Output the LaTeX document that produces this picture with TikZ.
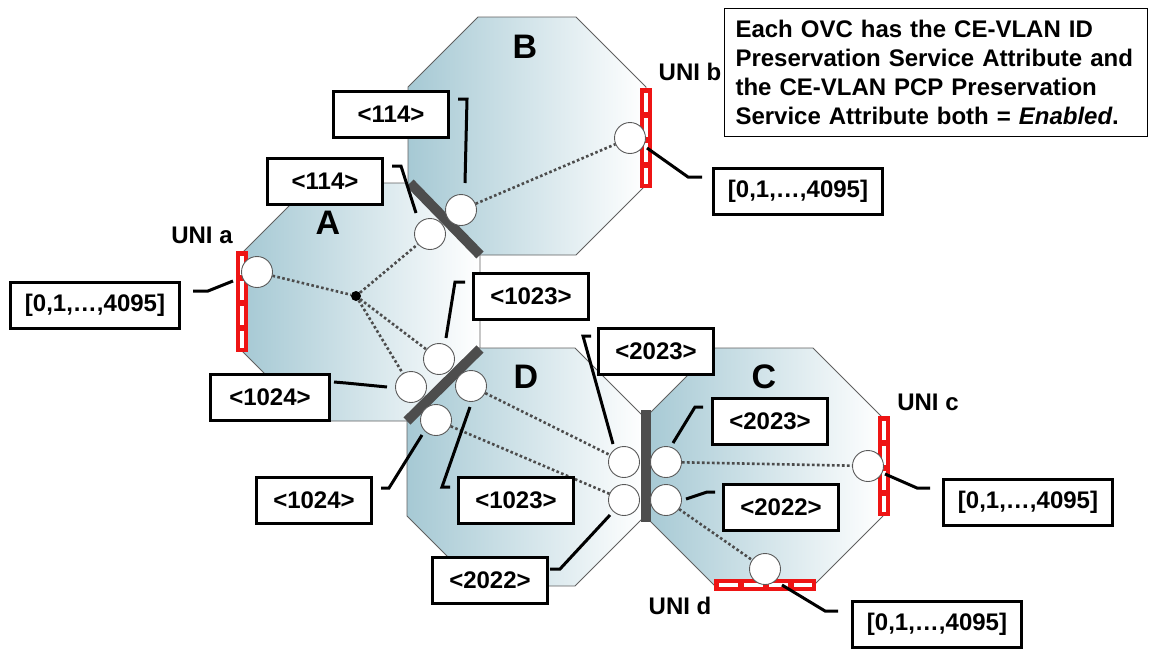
\documentclass[tikz,border=0pt]{standalone}
\usepackage{fontspec}
\setsansfont{Liberation Sans}
\definecolor{ovcblue}{RGB}{166,201,212}
\definecolor{nnigray}{RGB}{77,77,77}
\definecolor{unired}{RGB}{238,20,20}

\begin{document}
\begin{tikzpicture}[
  x=1pt, y=-1pt,
  font=\sffamily\bfseries\fontsize{24}{29}\selectfont,
  ovc/.style={draw=gray!75!black, line width=0.9, left color=ovcblue, right color=white},
  nni/.style={draw=nnigray, line width=10},
  unibar/.style={draw=unired, fill=unired, line width=2},
  unidash/.style={draw=white, line width=4, dash pattern=on 19 off 6},
  port/.style={circle, draw=gray!70!black, line width=0.9, fill=white, minimum size=31, inner sep=0},
  hub/.style={circle, fill=black, minimum size=10, inner sep=0},
  evc/.style={draw=gray!60!black, line width=2.6, dash pattern=on 2.6 off 2.4},
  lbl/.style={draw, line width=3, fill=white, minimum width=115, minimum height=46, inner sep=0},
  vlan/.style={lbl, minimum width=169},
  leader/.style={draw, line width=3},
  ovcname/.style={font=\sffamily\bfseries\fontsize{34}{34}\selectfont},
  note/.style={draw, line width=1, anchor=north west, align=left, minimum width=423, minimum height=128,
    text width=401, inner xsep=11}
]
\useasboundingbox (0,0) rectangle (1151,648);

% operator CENs
\begin{scope}[shift={(242,183)}]
  \draw[ovc] (70,0) -- (168,0) -- (238,70) -- (238,168) -- (168,238) -- (70,238) -- (0,168) -- (0,70) -- cycle;
\end{scope}
\begin{scope}[shift={(408,17)}]
  \draw[ovc] (70,0) -- (168,0) -- (238,70) -- (238,168) -- (168,238) -- (70,238) -- (0,168) -- (0,70) -- cycle;
\end{scope}
\begin{scope}[shift={(407,348)}]
  \draw[ovc] (70,0) -- (168,0) -- (238,70) -- (238,168) -- (168,238) -- (70,238) -- (0,168) -- (0,70) -- cycle;
\end{scope}
\begin{scope}[shift={(645,348)}]
  \draw[ovc] (70,0) -- (168,0) -- (238,70) -- (238,168) -- (168,238) -- (70,238) -- (0,168) -- (0,70) -- cycle;
\end{scope}

\node[ovcname] (nA) at (328,223) {A};
\node[ovcname] (nB) at (525,47) {B};
\node[ovcname] (nC) at (764,377) {C};
\node[ovcname] (nD) at (526,377) {D};

% ENNIs
\draw[nni] (410,183) -- (480,255);
\draw[nni] (407,421) -- (480,349);
\draw[nni] (646,410) -- (646,522);

% UNIs
\draw[unibar] (237,252) rectangle (247,351);
\draw[unidash] (242,256) -- (242,348);
\draw[unibar] (641,89) rectangle (651,187);
\draw[unidash] (646,93) -- (646,184);
\draw[unibar] (879,417) rectangle (889,515);
\draw[unidash] (884,421) -- (884,512);
\draw[unibar] (715,580) rectangle (815,590);
\draw[unidash] (719,585) -- (812,585);

\node (uA) at (202,235) {UNI a};
\node (uB) at (690,72) {UNI b};
\node (uC) at (928,402) {UNI c};
\node (uD) at (680,606) {UNI d};

% OVC end points
\node[port] (pA) at (257,272) {};
\node[port] (pAB) at (430,234) {};
\node[port] (pBA) at (461,210) {};
\node[port] (pB) at (630,138) {};
\node[port] (pAD1) at (439,359) {};
\node[port] (pAD2) at (411,387) {};
\node[port] (pDA1) at (471,386) {};
\node[port] (pDA2) at (436,420) {};
\node[port] (pDC1) at (624,462) {};
\node[port] (pDC2) at (624,500) {};
\node[port] (pCD1) at (666,462) {};
\node[port] (pCD2) at (666,500) {};
\node[port] (pC) at (868,466) {};
\node[port] (pD) at (765,569) {};
\node[hub] (hub) at (356,296) {};

\draw[evc] (pA) -- (hub);
\draw[evc] (hub) -- (pAB);
\draw[evc] (hub) -- (pAD1);
\draw[evc] (hub) -- (pAD2);
\draw[evc] (pBA) -- (pB);
\draw[evc] (pDA1) -- (pDC1);
\draw[evc] (pDA2) -- (pDC2);
\draw[evc] (pCD1) -- (pC);
\draw[evc] (pCD2) -- (pD);

% CE-VLAN ID maps
\node[lbl] (mB114) at (391,114) {<114>};
\node[lbl] (mA114) at (325,181) {<114>};
\node[vlan] (mA) at (95,305) {[0,1,…,4095]};
\node[lbl, minimum width=119] (mA1024) at (270,397) {<1024>};
\node[lbl] (mA1023) at (531,296) {<1023>};
\node[lbl] (mD2023) at (656,351) {<2023>};
\node[lbl] (mC2023) at (770,421) {<2023>};
\node[lbl] (mC2022) at (781,507) {<2022>};
\node[lbl] (mD1023) at (516,500) {<1023>};
\node[lbl] (mD1024) at (314,500) {<1024>};
\node[lbl] (mD2022) at (490,580) {<2022>};
\node[vlan] (mB) at (798,191) {[0,1,…,4095]};
\node[vlan] (mC) at (1028,502) {[0,1,…,4095]};
\node[vlan] (mD) at (937,624) {[0,1,…,4095]};

% leaders
\coordinate (k1) at (458,99);   \coordinate (e1) at (465,183);
\coordinate (k2) at (392,166);  \coordinate (e2) at (416,213);
\coordinate (k3) at (193,291);  \coordinate (e3) at (233,281);
\coordinate (k4) at (334,382);  \coordinate (e4) at (387,387);
\coordinate (k5) at (465,282);  \coordinate (e5) at (446,338);
\coordinate (k6) at (381,488);  \coordinate (e6) at (422,435);
\coordinate (k7) at (450,487);  \coordinate (e7) at (470,407);
\coordinate (k8) at (591,336);  \coordinate (e8) at (613,444);
\coordinate (k9) at (703,407);  \coordinate (e9) at (673,443);
\coordinate (k10) at (715,492); \coordinate (e10) at (686,499);
\coordinate (k11) at (550,569); \coordinate (e11) at (610,515);
\coordinate (k12) at (702,177); \coordinate (e12) at (647,148);
\coordinate (k13) at (930,488); \coordinate (e13) at (885,474);
\coordinate (k14) at (838,611); \coordinate (e14) at (782,585);

\draw[leader] (k1) -- ++(9,0) -- (e1);
\draw[leader] (k2) -- ++(9,0) -- (e2);
\draw[leader] (k3) -- ++(15,0) -- (e3);
\draw[leader] (k4) -- ++(12,1) -- (e4);
\draw[leader] (k5) -- ++(-10,0) -- (e5);
\draw[leader] (k6) -- ++(8,0) -- (e6);
\draw[leader] (k7) -- ++(-8,0) -- (e7);
\draw[leader] (k8) -- ++(-8,0) -- (e8);
\draw[leader] (k9) -- ++(-8,0) -- (e9);
\draw[leader] (k10) -- ++(-8,0) -- (e10);
\draw[leader] (k11) -- ++(10,0) -- (e11);
\draw[leader] (k12) -- ++(-14,0) -- (e12);
\draw[leader] (k13) -- ++(-13,0) -- (e13);
\draw[leader] (k14) -- ++(-13,0) -- (e14);

\node[note] (note) at (724,8) {Each OVC has the CE-VLAN ID\\Preservation Service Attribute and\\the CE-VLAN PCP Preservation\\Service Attribute both = \textit{Enabled}.};
\end{tikzpicture}
\end{document}
